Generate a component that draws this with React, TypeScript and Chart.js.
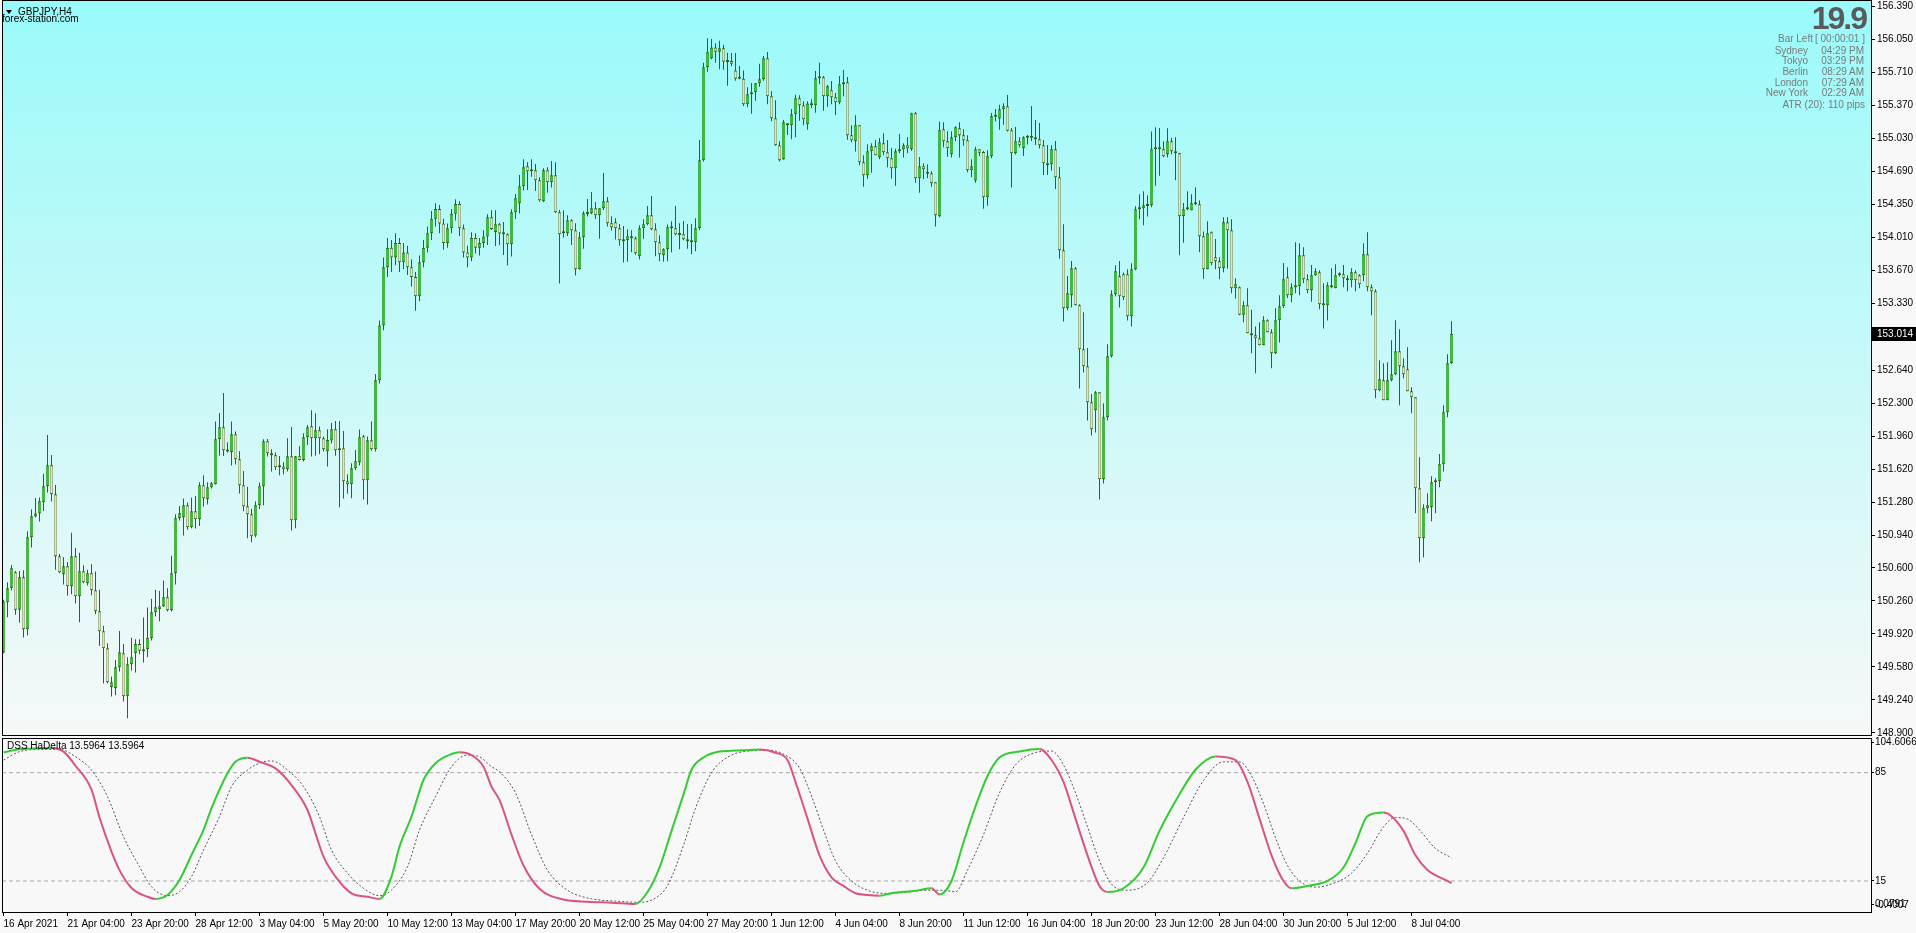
import React, { useEffect, useRef } from "react";
import { Chart, registerables } from "chart.js";

Chart.register(...registerables);

const FONT = '"Liberation Sans", Arial, sans-serif';

const opens = [
149.729,150.248,150.392,150.557,150.169,150.505,149.969,150.917,151.130,151.161,
151.278,151.443,151.659,151.360,150.721,150.536,150.618,150.412,150.721,150.309,
150.567,150.443,150.546,150.371,150.155,149.949,149.774,149.372,149.362,149.578,
149.722,149.279,149.609,149.722,149.818,149.739,149.763,149.877,150.145,150.175,
150.206,150.299,150.165,150.546,151.113,151.123,151.247,151.020,151.185,151.103,
151.453,151.309,151.432,151.463,151.927,152.050,151.813,151.796,151.978,151.721,
151.453,151.236,151.154,150.934,151.247,151.443,151.906,151.783,151.762,151.649,
151.645,151.618,151.752,151.092,151.752,151.714,151.947,152.061,151.937,152.019,
151.937,151.803,151.913,152.030,151.813,151.834,151.494,151.463,151.628,151.690,
151.958,151.504,151.916,151.824,152.535,153.10,153.70,153.90,153.80,153.95,
153.75,153.85,153.70,153.60,153.40,153.75,153.90,154.05,154.20,154.30,
154.15,153.95,154.10,154.25,154.35,154.10,153.85,153.80,154.00,153.90,
153.95,154.015,154.214,154.063,154.142,154.049,154.039,153.936,154.266,154.358,
154.533,154.739,154.698,154.698,154.595,154.379,154.698,154.575,154.647,154.266,
154.060,154.049,154.183,154.080,153.678,154.008,154.248,154.255,154.307,154.235,
154.307,154.379,154.152,154.163,154.101,153.987,153.977,154.018,153.998,153.812,
154.101,154.142,154.235,154.090,153.957,153.823,153.884,154.101,154.101,154.039,
154.039,153.977,153.957,153.957,154.101,154.801,155.759,155.852,155.965,155.921,
155.955,155.825,155.825,155.728,155.649,155.643,155.378,155.481,155.502,155.595,
155.636,155.852,155.461,155.234,154.956,154.812,155.162,155.162,155.275,155.440,
155.368,155.172,155.368,155.368,155.646,155.656,155.461,155.522,155.450,155.399,
155.584,155.605,155.059,154.997,155.162,154.781,154.647,154.894,154.946,154.832,
154.976,154.884,154.822,154.719,154.894,154.915,154.956,154.915,155.285,154.616,
154.739,154.667,154.667,154.575,154.224,155.121,154.997,154.863,155.038,155.131,
155.059,155.007,154.698,154.592,154.915,154.887,154.420,154.843,155.251,155.231,
155.327,155.358,155.110,154.874,154.997,154.925,155.035,155.042,155.038,155.018,
154.956,154.760,154.760,154.915,154.626,153.874,153.277,153.411,153.689,153.308,
152.854,152.679,152.308,152.226,152.411,151.515,152.154,152.782,153.421,153.606,
153.627,153.627,153.194,153.678,154.297,154.307,154.331,154.338,154.935,154.935,
154.915,154.863,154.997,154.894,154.874,154.224,154.297,154.286,154.348,154.348,
154.018,153.678,154.060,153.802,153.761,153.689,154.163,154.080,153.483,153.493,
153.211,153.308,153.019,152.999,152.968,152.896,153.153,153.029,152.813,153.153,
153.297,153.596,153.411,153.493,153.503,153.823,153.575,153.462,153.617,153.648,
153.318,153.308,153.514,153.483,153.617,153.627,153.586,153.565,153.648,153.617,
153.617,153.833,153.493,153.452,152.432,152.535,152.329,152.535,152.597,152.834,
152.679,152.648,152.422,152.360,151.422,150.907,151.216,151.227,151.484,151.495,
151.670,152.205,152.710
];

const highs = [
150.272,150.454,150.632,150.570,150.570,150.577,150.979,151.206,151.322,151.326,
151.570,151.971,151.765,151.456,150.745,150.711,150.663,150.962,150.807,150.756,
150.629,150.581,150.639,150.563,150.375,150.004,149.825,149.482,149.653,149.952,
149.818,149.681,149.880,149.866,149.866,150.090,150.193,150.282,150.375,150.364,
150.471,150.392,150.725,151.154,151.240,151.315,151.274,151.326,151.343,151.484,
151.556,151.484,151.487,152.109,152.198,152.404,151.896,152.109,152.006,151.803,
151.600,151.436,151.209,151.288,151.480,151.927,151.930,151.824,151.789,151.755,
151.690,151.937,152.054,151.755,151.855,151.989,152.074,152.226,152.195,152.057,
151.954,152.030,152.098,152.116,152.116,152.013,151.566,151.679,151.817,152.026,
151.971,151.954,152.109,152.600,153.15,153.80,154.00,153.98,154.05,154.00,
153.95,153.92,153.78,153.65,153.82,153.98,154.12,154.28,154.36,154.34,
154.20,154.15,154.30,154.40,154.38,154.14,153.92,154.06,154.05,154.00,
154.08,154.245,154.286,154.286,154.156,154.166,154.049,154.296,154.454,154.650,
154.812,154.781,154.812,154.764,154.626,154.719,154.729,154.794,154.781,154.290,
154.286,154.235,154.193,154.152,154.063,154.276,154.403,154.475,154.372,154.307,
154.671,154.424,154.224,154.204,154.145,154.125,154.090,154.080,154.015,154.132,
154.193,154.331,154.434,154.152,154.029,153.894,154.139,154.173,154.331,154.152,
154.176,154.145,154.145,154.204,155.011,155.807,156.058,156.051,156.007,156.034,
155.993,155.910,155.907,155.907,155.773,155.728,155.553,155.598,155.598,155.797,
155.876,155.917,155.512,155.419,154.997,155.217,155.186,155.330,155.478,155.471,
155.409,155.409,155.430,155.722,155.807,155.670,155.577,155.619,155.495,155.670,
155.732,155.660,155.162,155.265,155.162,154.853,154.966,154.976,155.011,155.031,
155.079,155.011,154.928,154.921,155.073,154.976,155.042,155.292,155.299,154.836,
154.770,154.757,154.688,154.578,155.200,155.193,155.100,155.100,155.152,155.193,
155.121,155.059,154.812,154.942,154.915,154.898,154.904,155.289,155.330,155.375,
155.389,155.474,155.135,155.145,155.038,155.049,155.062,155.361,155.217,155.186,
155.011,154.959,154.956,155.001,154.733,154.142,153.610,153.764,153.703,153.318,
153.236,152.868,152.394,152.425,152.411,152.298,152.906,153.462,153.720,153.764,
153.644,153.678,153.740,154.328,154.451,154.482,154.441,155.097,155.141,155.135,
154.997,155.131,155.035,155.038,154.880,154.362,154.482,154.451,154.523,154.389,
154.067,154.173,154.067,153.991,153.802,154.214,154.214,154.194,153.586,153.500,
153.349,153.483,153.260,153.088,153.132,153.194,153.163,153.060,153.277,153.411,
153.744,153.699,153.534,153.957,153.946,153.905,153.627,153.723,153.689,153.668,
153.534,153.545,153.689,153.730,153.648,153.723,153.617,153.689,153.668,153.627,
153.946,154.060,153.524,153.472,152.741,152.710,152.720,152.947,153.153,153.060,
152.762,152.875,152.463,152.360,151.742,151.258,151.371,151.546,151.525,151.776,
152.277,152.803,153.143
];

const lows = [
149.722,150.093,150.368,150.117,150.038,149.883,149.904,150.811,151.120,151.079,
151.188,151.377,151.285,150.581,150.546,150.430,150.316,150.330,150.234,150.041,
150.443,150.419,150.320,150.124,149.798,149.410,149.413,149.276,149.289,149.533,
149.224,149.052,149.544,149.523,149.712,149.626,149.681,149.853,150.100,150.052,
150.199,150.151,150.151,150.430,151.089,150.934,150.993,151.010,151.006,151.034,
151.233,151.254,151.418,151.460,151.758,151.755,151.789,151.655,151.666,151.367,
151.185,150.907,150.866,150.917,151.209,151.247,151.748,151.594,151.611,151.556,
151.566,151.594,150.986,151.010,151.707,151.697,151.868,151.748,151.758,151.772,
151.800,151.645,151.882,151.758,151.226,151.315,151.364,151.319,151.611,151.655,
151.305,151.254,151.807,151.800,152.50,153.05,153.60,153.65,153.72,153.65,
153.68,153.62,153.50,153.25,153.35,153.70,153.85,153.98,154.12,154.05,
153.88,153.90,154.05,154.18,154.02,153.80,153.70,153.76,153.84,153.82,
153.90,153.929,154.084,153.919,153.929,153.826,153.716,153.809,154.197,154.252,
154.489,154.496,154.633,154.485,154.375,154.372,154.468,154.520,154.259,153.531,
154.005,154.022,153.929,153.613,153.675,153.891,154.221,154.245,154.197,153.994,
154.290,154.118,154.077,153.984,153.922,153.747,153.757,153.854,153.829,153.778,
153.994,154.132,154.080,153.812,153.761,153.757,153.761,153.854,154.029,153.884,
153.977,153.891,153.833,153.864,154.080,154.788,155.715,155.842,155.807,155.739,
155.735,155.570,155.770,155.622,155.636,155.361,155.347,155.282,155.416,155.560,
155.622,155.378,155.203,154.952,154.788,154.808,155.062,155.018,155.038,155.210,
155.162,155.117,155.340,155.292,155.584,155.313,155.354,155.378,155.268,155.378,
155.461,155.014,154.987,154.891,154.750,154.530,154.612,154.674,154.853,154.812,
154.853,154.729,154.612,154.540,154.873,154.829,154.873,154.901,154.571,154.468,
154.606,154.616,154.530,154.118,154.214,154.935,154.839,154.829,154.997,154.829,
154.952,154.678,154.626,154.571,154.843,154.303,154.334,154.822,155.200,155.117,
155.169,155.097,154.520,154.860,154.935,154.846,154.963,155.001,154.959,154.922,
154.650,154.650,154.695,154.506,153.788,153.139,153.256,153.284,153.304,152.449,
152.614,152.119,151.965,151.996,151.306,151.470,152.119,152.769,153.397,153.284,
153.363,153.150,153.088,153.668,154.194,154.132,154.221,154.317,154.540,154.643,
154.832,154.832,154.863,154.595,153.823,153.953,154.286,154.286,154.338,153.854,
153.582,153.678,153.720,153.678,153.575,153.648,153.685,153.431,153.376,153.205,
153.132,153.019,152.813,152.607,152.896,152.896,153.029,152.659,152.803,152.923,
153.280,153.383,153.339,153.431,153.411,153.534,153.431,153.345,153.610,153.266,
153.067,153.150,153.483,153.483,153.603,153.493,153.452,153.493,153.452,153.483,
153.555,153.452,153.205,152.350,152.422,152.329,152.329,152.525,152.586,152.277,
152.556,152.422,152.195,151.165,150.660,150.711,151.165,151.082,151.165,151.433,
151.594,152.154,152.700
];

const closes = [
150.254,150.392,150.598,150.169,150.505,149.969,150.917,151.133,151.161,151.288,
151.443,151.659,151.360,150.721,150.557,150.618,150.412,150.721,150.309,150.567,
150.454,150.546,150.371,150.155,149.949,149.774,149.423,149.423,149.578,149.732,
149.279,149.609,149.681,149.818,149.746,149.763,149.880,150.145,150.196,150.206,
150.299,150.165,150.546,151.113,151.164,151.247,151.020,151.185,151.103,151.453,
151.319,151.432,151.473,151.927,152.050,151.813,151.800,151.978,151.721,151.453,
151.236,151.154,150.927,151.247,151.443,151.906,151.783,151.762,151.638,151.638,
151.618,151.752,151.092,151.752,151.714,151.947,152.050,151.937,152.019,151.937,
151.824,151.920,152.030,151.813,151.834,151.494,151.463,151.628,151.700,151.947,
151.504,151.916,151.824,152.535,153.10,153.70,153.90,153.80,153.95,153.75,
153.85,153.70,153.60,153.40,153.75,153.90,154.05,154.20,154.30,154.15,
153.95,154.10,154.25,154.35,154.10,153.85,153.80,154.00,153.90,153.95,
154.015,154.214,154.094,154.142,154.046,154.039,153.936,154.266,154.410,154.533,
154.729,154.688,154.688,154.595,154.389,154.698,154.575,154.647,154.266,154.039,
154.049,154.183,154.080,153.678,154.008,154.255,154.255,154.307,154.235,154.307,
154.379,154.152,154.111,154.101,153.977,153.967,154.018,153.998,153.843,154.101,
154.142,154.235,154.090,153.957,153.833,153.884,154.111,154.111,154.039,154.032,
153.987,153.967,153.967,154.101,154.801,155.759,155.914,155.965,155.921,155.955,
155.818,155.814,155.797,155.643,155.643,155.378,155.481,155.502,155.595,155.636,
155.852,155.461,155.234,154.956,154.801,155.193,155.172,155.275,155.440,155.368,
155.224,155.388,155.388,155.646,155.656,155.461,155.564,155.450,155.399,155.584,
155.605,155.059,155.007,155.162,154.781,154.647,154.894,154.946,154.853,154.987,
154.884,154.822,154.719,154.894,154.915,154.956,154.925,155.285,154.616,154.739,
154.709,154.664,154.564,154.235,155.110,154.997,154.925,155.038,155.141,155.059,
155.007,154.698,154.739,154.915,154.880,154.420,154.843,155.255,155.258,155.327,
155.358,155.107,154.874,154.997,154.956,155.038,155.042,155.035,155.018,154.956,
154.770,154.750,154.915,154.626,153.874,153.277,153.431,153.689,153.308,152.854,
152.679,152.308,152.030,152.411,151.515,152.154,152.782,153.421,153.658,153.400,
153.390,153.194,153.678,154.297,154.317,154.338,154.338,154.915,154.915,154.915,
154.843,154.997,154.894,154.874,154.224,154.297,154.307,154.358,154.358,154.018,
153.678,154.049,153.740,153.761,153.689,154.163,154.080,153.483,153.524,153.211,
153.308,153.019,152.999,152.968,152.896,153.153,153.029,152.813,153.153,153.297,
153.575,153.411,153.493,153.503,153.823,153.575,153.462,153.617,153.658,153.318,
153.308,153.514,153.493,153.617,153.627,153.586,153.565,153.648,153.565,153.524,
153.833,153.493,153.452,152.432,152.545,152.329,152.535,152.597,152.834,152.679,
152.597,152.422,152.360,151.422,150.907,151.216,151.247,151.484,151.495,151.670,
152.205,152.710,153.014
];

const priceTicks = [
156.39,156.05,155.71,155.37,155.03,154.69,154.35,154.01,153.67,153.33,152.98,
152.64,152.30,151.96,151.62,151.28,150.94,150.60,150.26,149.92,149.58,149.24,148.90
];

const timeLabels = [
"16 Apr 2021","21 Apr 04:00","23 Apr 20:00","28 Apr 12:00","3 May 04:00","5 May 20:00",
"10 May 12:00","13 May 04:00","17 May 20:00","20 May 12:00","25 May 04:00","27 May 20:00",
"1 Jun 12:00","4 Jun 04:00","8 Jun 20:00","11 Jun 12:00","16 Jun 04:00","18 Jun 20:00",
"23 Jun 12:00","28 Jun 04:00","30 Jun 20:00","5 Jul 12:00","8 Jul 04:00"
];
const timeLabelBars = [0,16,32,48,64,80,96,112,128,144,160,176,192,208,224,240,256,272,288,304,320,336,352];

const dssBars = [0,4,8,12,15,18,22,24,27,29,32,36,38,41,44,47,50,52,56,58,61,64,68,72,76,78,80,83,87,91,94,97,99,102,105,108,112,114,117,120,122,124,127,130,134,140,146,152,158,161,164,167,170,172,175,179,185,189,193,196,198,201,204,207,210,213,216,219,222,228,232,234,237,240,243,246,249,254,259,262,265,268,271,274,276,280,285,289,294,298,303,308,311,314,317,320,322,326,331,335,338,341,345,347,350,353,356,361,362];
const dssValues = [98.2,100.1,100.7,101.0,98.6,89.5,74.0,56.0,34.0,22.0,10.5,4.8,3.4,5.9,15.6,31.8,48.0,62.0,84.6,92.1,94.7,92.1,87.8,77.0,60.9,45.8,30.7,17.8,7.0,4.8,3.4,17.8,37.2,56.6,80.3,91.1,97.1,98.2,96.4,88.9,76.0,67.4,45,25,10,3,1.6,1.0,0.2,7.9,23.7,47.4,71,86.9,94.8,98.7,99.5,100.0,97.9,93.2,79,55.3,31.6,17.4,11.8,7.1,6.0,5.5,7.1,8.7,10.3,6.3,15,40,63.2,82.9,94.8,98.7,100.3,93.2,79,55.3,31.6,11.8,7.9,10.3,23.7,47.4,71.1,86.9,95.5,93.2,79,55.3,31.6,15,10.3,11.8,15.0,23.7,39.5,56.9,59.2,56.9,47.4,31.6,22.1,15.0,13.6];

const sigBars = [0,4,10,14,18,22,26,30,34,37,41,44,47,50,54,57,61,65,67,71,75,79,82,86,90,94,97,101,104,108,112,116,119,122,124,128,132,136,141,147,153,159,163,166,170,173,177,181,186,191,195,199,202,205,208,212,216,220,225,231,235,238,241,245,249,253,258,262,265,268,271,274,277,281,286,290,295,300,305,309,312,315,318,321,324,328,333,337,341,345,348,351,354,358,362];
const sigValues = [93.2,98.6,100.1,100.1,95.3,86.7,69.5,43.6,24.2,11.3,5.5,8.1,17.8,35,56.6,76,86.7,92.1,92.6,86.7,76,56.6,35,20,10.3,5.5,9.2,24.2,48,69.5,88.9,96.4,95.3,88.9,85.6,72,45,22,9,3.5,2,1.2,4,12,38,62,85,95,99,99.5,97,88,70,48,28,15,9,7,7.5,9,9,8,22,45,72,90,98,99,90,72,50,28,13,9,14,30,56,80,92,92,83,65,43,25,15,11,14,20,33,50,56,55,48,36,30];

const levelValues = [85, 15];
const indTickValues = [104.6066, 85, 15, 0.0791, -0.4007];
const indTickLabels = ["104.6066", "85", "15", "0.0791", "-0.4007"];

const X_MIN = -0.375;
const X_MAX = 466.875;
const PAGE_BG = "#f8f8f8";
const BULL = "#0cdc0c";
const BEAR = "#f2dcc0";
const OUTLINE = "#2f6412";
const DSS_UP = "#33cc33";
const DSS_DN = "#d9547f";

export default function App() {
  const mainRef = useRef<HTMLCanvasElement | null>(null);
  const indRef = useRef<HTMLCanvasElement | null>(null);

  useEffect(() => {
    document.body.style.margin = "0";
    document.body.style.background = PAGE_BG;
    const n = closes.length;
    const idx = Array.from({ length: n }, (_, i) => i);

    const mainPlugin = {
      id: "mainPane",
      beforeDraw(chart: any) {
        const { ctx, chartArea: a, width, height } = chart;
        ctx.save();
        ctx.fillStyle = PAGE_BG;
        ctx.fillRect(0, 0, width, height);
        const g = ctx.createLinearGradient(0, a.top, 0, a.bottom);
        g.addColorStop(0, "#9afafa");
        g.addColorStop(1, "#f7f8f8");
        ctx.fillStyle = g;
        ctx.fillRect(a.left, a.top, a.right - a.left, a.bottom - a.top);
        ctx.restore();
      },
      afterDraw(chart: any) {
        const { ctx, chartArea: a } = chart;
        ctx.save();
        ctx.strokeStyle = "#000";
        ctx.lineWidth = 1;
        ctx.strokeRect(a.left + 0.5, a.top - 0.5, a.right - a.left, a.bottom - a.top + 1);
        const last = closes[n - 1];
        const y = chart.scales.y.getPixelForValue(last);
        ctx.fillStyle = "#000";
        ctx.fillRect(a.right + 1, Math.round(y) - 7, 46, 14);
        ctx.fillStyle = "#fff";
        ctx.font = `10px ${FONT}`;
        ctx.textBaseline = "middle";
        ctx.fillText(last.toFixed(3), a.right + 6, Math.round(y) + 0.5);
        ctx.restore();
      },
    };

    const main = new Chart(mainRef.current as HTMLCanvasElement, {
      type: "bar",
      data: {
        datasets: [
          {
            label: "wicks",
            data: idx.map((i) => ({ x: i, y: [lows[i], highs[i]] })) as any,
            backgroundColor: OUTLINE,
            borderWidth: 0,
            barThickness: 1,
            inflateAmount: 0,
            grouped: false,
            order: 2,
          } as any,
          {
            label: "bodies",
            data: idx.map((i) => ({ x: i, y: [opens[i], closes[i]] })) as any,
            backgroundColor: idx.map((i) => (closes[i] >= opens[i] ? BULL : BEAR)),
            borderColor: OUTLINE,
            borderWidth: { left: 0.6, right: 0.6, top: 1, bottom: 1 },
            borderSkipped: false,
            barThickness: 3,
            inflateAmount: 0,
            minBarLength: 2,
            grouped: false,
            order: 1,
          } as any,
        ],
      },
      options: {
        responsive: false,
        animation: false,
        devicePixelRatio: 1,
        events: [],
        layout: { padding: { left: 2, top: 1, bottom: 2, right: 0 } },
        plugins: { legend: { display: false }, tooltip: { enabled: false } },
        scales: {
          x: { type: "linear", min: X_MIN, max: X_MAX, offset: false, display: false },
          y: {
            type: "linear",
            position: "right",
            min: 148.879,
            max: 156.443,
            beginAtZero: false,
            afterBuildTicks: (s: any) => {
              s.ticks = priceTicks.map((v) => ({ value: v }));
            },
            afterFit: (s: any) => {
              s.width = 45;
              s.paddingTop = 0;
              s.paddingBottom = 0;
            },
            ticks: {
              autoSkip: false,
              padding: 2,
              color: "#000",
              font: { family: FONT, size: 10 },
              callback: (v: any) => Number(v).toFixed(3),
            },
            grid: { drawOnChartArea: false, drawTicks: true, tickLength: 4, color: "#000" },
            border: { display: true, color: "#000" },
          },
        },
      } as any,
      plugins: [mainPlugin],
    });

    const indPlugin = {
      id: "indPane",
      beforeDraw(chart: any) {
        const { ctx, width, height } = chart;
        ctx.save();
        ctx.fillStyle = PAGE_BG;
        ctx.fillRect(0, 0, width, height);
        ctx.restore();
      },
      afterDraw(chart: any) {
        const { ctx, chartArea: a } = chart;
        ctx.save();
        ctx.strokeStyle = "#000";
        ctx.lineWidth = 1;
        ctx.strokeRect(a.left + 0.5, a.top + 0.5, a.right - a.left, a.bottom - a.top);
        ctx.restore();
      },
    };

    const levelSets = levelValues.map((lv) => ({
      data: [
        { x: X_MIN, y: lv },
        { x: X_MAX, y: lv },
      ],
      borderColor: "#a8a8a8",
      borderWidth: 1,
      borderDash: [4, 3],
      pointRadius: 0,
      order: 3,
    }));

    const ind = new Chart(indRef.current as HTMLCanvasElement, {
      type: "line",
      data: {
        datasets: [
          ...levelSets,
          {
            data: sigBars.map((b, i) => ({ x: b, y: sigValues[i] })),
            borderColor: "#555555",
            borderWidth: 1,
            borderDash: [2, 2],
            pointRadius: 0,
            cubicInterpolationMode: "monotone",
            order: 2,
          },
          {
            data: dssBars.map((b, i) => ({ x: b, y: dssValues[i] })),
            borderColor: DSS_UP,
            borderWidth: 2,
            pointRadius: 0,
            cubicInterpolationMode: "monotone",
            segment: {
              borderColor: (c: any) => (c.p1.parsed.y >= c.p0.parsed.y ? DSS_UP : DSS_DN),
            },
            order: 1,
          },
        ] as any,
      },
      options: {
        responsive: false,
        animation: false,
        devicePixelRatio: 1,
        events: [],
        layout: { padding: { left: 2, top: 2, bottom: 0, right: 0 } },
        plugins: { legend: { display: false }, tooltip: { enabled: false } },
        scales: {
          x: {
            type: "linear",
            min: X_MIN,
            max: X_MAX,
            offset: false,
            position: "bottom",
            afterBuildTicks: (s: any) => {
              s.ticks = timeLabelBars.map((v) => ({ value: v }));
            },
            afterFit: (s: any) => {
              s.height = 21;
              s.paddingLeft = 0;
              s.paddingRight = 0;
            },
            ticks: {
              autoSkip: false,
              maxRotation: 0,
              minRotation: 0,
              align: "start",
              padding: 2,
              color: "#000",
              font: { family: FONT, size: 10 },
              callback: (_v: any, i: number) => timeLabels[i],
            },
            grid: { drawOnChartArea: false, drawTicks: true, tickLength: 4, color: "#000" },
            border: { display: true, color: "#000" },
          },
          y: {
            type: "linear",
            position: "right",
            min: -5.05,
            max: 107.43,
            afterBuildTicks: (s: any) => {
              s.ticks = indTickValues.map((v) => ({ value: v }));
            },
            afterFit: (s: any) => {
              s.width = 45;
              s.paddingTop = 0;
              s.paddingBottom = 0;
            },
            ticks: {
              autoSkip: false,
              padding: 1,
              color: "#000",
              font: { family: FONT, size: 10 },
              callback: (_v: any, i: number) => indTickLabels[i],
            },
            grid: { drawOnChartArea: false, drawTicks: true, tickLength: 3, color: "#000" },
            border: { display: true, color: "#000" },
          },
        },
      } as any,
      plugins: [indPlugin],
    });

    return () => {
      main.destroy();
      ind.destroy();
    };
  }, []);

  const small: React.CSSProperties = {
    position: "absolute",
    fontFamily: FONT,
    fontSize: 10,
    lineHeight: "12px",
    whiteSpace: "pre",
  };
  const infoRows: [string, string, number][] = [
    ["Sydney", "04:29 PM", 45],
    ["Tokyo", "03:29 PM", 55],
    ["Berlin", "08:29 AM", 66],
    ["London", "07:29 AM", 77],
    ["New York", "02:29 AM", 87],
  ];

  return (
    <div
      style={{
        position: "fixed",
        left: 0,
        top: 0,
        width: 1916,
        height: 933,
        overflow: "hidden",
        background: PAGE_BG,
      }}
    >
      <canvas
        ref={mainRef}
        width={1916}
        height={737}
        style={{ position: "absolute", left: 0, top: 0, width: 1916, height: 737 }}
      />
      <canvas
        ref={indRef}
        width={1916}
        height={197}
        style={{ position: "absolute", left: 0, top: 736, width: 1916, height: 197 }}
      />
      <div
        style={{
          position: "absolute",
          left: 6,
          top: 10,
          width: 0,
          height: 0,
          borderLeft: "3px solid transparent",
          borderRight: "3px solid transparent",
          borderTop: "4px solid #000",
        }}
      />
      <div style={{ ...small, left: 18, top: 6, color: "#000" }}>GBPJPY,H4</div>
      <div style={{ ...small, left: 2, top: 13, color: "#000" }}>forex-station.com</div>

      <div
        style={{
          position: "absolute",
          right: 1916 - 1866,
          top: 2,
          fontFamily: FONT,
          fontWeight: "bold",
          fontSize: 32,
          lineHeight: "32px",
          letterSpacing: "-2px",
          color: "#5a5a5a",
          whiteSpace: "pre",
        }}
      >
        19.9
      </div>
      <div style={{ ...small, right: 1916 - 1813, top: 33, color: "#7a7a7a", textAlign: "right" }}>Bar Left</div>
      <div style={{ ...small, right: 1916 - 1865, top: 33, color: "#7a7a7a", textAlign: "right" }}>[ 00:00:01 ]</div>
      {infoRows.map(([k, v, t]) => (
        <React.Fragment key={k}>
          <div style={{ ...small, right: 1916 - 1808, top: t, color: "#7a7a7a", textAlign: "right" }}>{k}</div>
          <div style={{ ...small, right: 1916 - 1864, top: t, color: "#7a7a7a", textAlign: "right" }}>{v}</div>
        </React.Fragment>
      ))}
      <div style={{ ...small, right: 1916 - 1865, top: 99, color: "#7a7a7a", textAlign: "right" }}>
        ATR (20): 110 pips
      </div>

      <div style={{ ...small, left: 7, top: 740, color: "#000" }}>DSS HaDelta 13.5964 13.5964</div>
    </div>
  );
}
